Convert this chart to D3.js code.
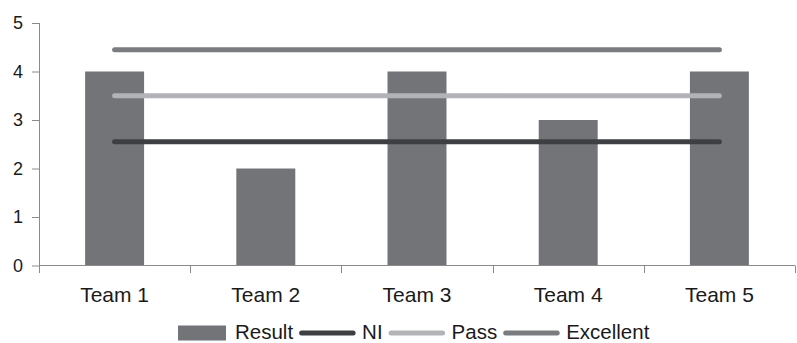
<!DOCTYPE html>
<html>
<head>
<meta charset="utf-8">
<script src="https://cdn.jsdelivr.net/npm/d3@7/dist/d3.min.js"></script>
<style>
  html, body { margin: 0; padding: 0; background: #fff; }
  svg text { font-family: "Liberation Sans", Arial, Helvetica, sans-serif; fill: #1a1a1a; }
</style>
</head>
<body>
<svg id="chart" width="797" height="343"></svg>
<script>
// Team results compared with the rating thresholds
const teams = ["Team 1", "Team 2", "Team 3", "Team 4", "Team 5"];
const result = [4, 2, 4, 3, 4];
const niLevel = [2.55, 2.55, 2.55, 2.55, 2.55];
const passLevel = [3.5, 3.5, 3.5, 3.5, 3.5];
const excellentLevel = [4.45, 4.45, 4.45, 4.45, 4.45];
const yTicks = [0, 1, 2, 3, 4, 5];
const legendLabels = ["Result", "NI", "Pass", "Excellent"];

const colors = {
  Result: "#737478",
  NI: "#3e3f42",
  Pass: "#b2b3b6",
  Excellent: "#7b7c80",
  axis: "#8a8a8a"
};

const svg = d3.select("#chart");
const plot = { left: 39, right: 795, top: 23, bottom: 265.5 };

const x = d3.scaleBand().domain(teams).range([plot.left, plot.right]).paddingInner(0.61).paddingOuter(0.305);
const y = d3.scaleLinear().domain([0, 5]).range([plot.bottom, plot.top]);

// Bars
svg.append("g").selectAll("rect").data(teams).join("rect")
  .attr("x", d => x(d))
  .attr("y", (d, i) => y(result[i]))
  .attr("width", x.bandwidth())
  .attr("height", (d, i) => y(0) - y(result[i]))
  .attr("fill", colors.Result);

// Threshold lines
const line = d3.line()
  .x((d, i) => x(teams[i]) + x.bandwidth() / 2)
  .y(d => y(d));
[["NI", niLevel], ["Pass", passLevel], ["Excellent", excellentLevel]].forEach(([name, vals]) => {
  svg.append("path")
    .attr("d", line(vals))
    .attr("fill", "none")
    .attr("stroke", colors[name])
    .attr("stroke-width", 5)
    .attr("stroke-linecap", "round");
});

// Y axis
const yAxis = svg.append("g")
  .attr("transform", `translate(${plot.left},0)`)
  .call(d3.axisLeft(y).tickValues(yTicks).tickFormat(d3.format("d")).tickSize(7).tickPadding(9).tickSizeOuter(0));
yAxis.select(".domain").attr("stroke", colors.axis).attr("d", `M0.5,${plot.top}V${plot.bottom + 7.5}`);
yAxis.selectAll(".tick line").attr("stroke", colors.axis);
yAxis.selectAll(".tick text").attr("font-size", 18).attr("fill", "#1a1a1a")
  .attr("font-family", "Liberation Sans, Arial, sans-serif");

// X axis: baseline with ticks on category boundaries
const xAxis = svg.append("g").attr("transform", `translate(0,${plot.bottom})`);
xAxis.append("line")
  .attr("x1", plot.left).attr("x2", plot.right)
  .attr("y1", 0).attr("y2", 0)
  .attr("stroke", colors.axis);
const boundaries = teams.slice(1).map(t => x(t) - x.step() * x.paddingInner() / 2);
boundaries.push(plot.right);
xAxis.selectAll(".bound").data(boundaries).join("line")
  .attr("x1", d => Math.round(d) + 0.5).attr("x2", d => Math.round(d) + 0.5)
  .attr("y1", 0).attr("y2", 7.5)
  .attr("stroke", colors.axis);
xAxis.selectAll("text").data(teams).join("text")
  .attr("x", d => x(d) + x.bandwidth() / 2)
  .attr("y", 36.5)
  .attr("text-anchor", "middle")
  .attr("font-size", 21)
  .text(d => d);

// Legend
const legend = svg.append("g").attr("transform", "translate(178,333)");
let cx = 0;
legendLabels.forEach((name, i) => {
  if (name === "Result") {
    legend.append("rect").attr("x", cx).attr("y", -7.5).attr("width", 48).attr("height", 15).attr("fill", colors.Result);
    cx += 48 + 9;
  } else {
    legend.append("line")
      .attr("x1", cx + 2.5).attr("x2", cx + 54)
      .attr("y1", 0).attr("y2", 0)
      .attr("stroke", colors[name]).attr("stroke-width", 5).attr("stroke-linecap", "round");
    cx += 56.5 + 6.5;
  }
  const t = legend.append("text").attr("x", cx).attr("y", 5.5).attr("font-size", 20.5).text(name);
  cx += t.node().getComputedTextLength() + 6;
});
</script>
</body>
</html>
